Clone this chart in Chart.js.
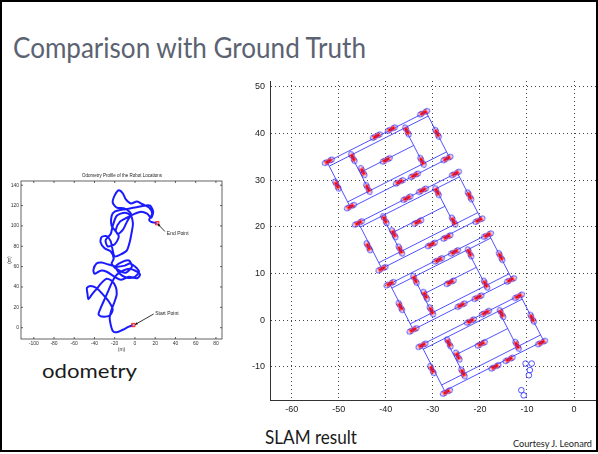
<!DOCTYPE html>
<html>
<head>
<meta charset="utf-8">
<script src="https://cdn.jsdelivr.net/npm/chart.js@4.4.1/dist/chart.umd.min.js"></script>
<style>
  html, body { margin: 0; padding: 0; background: #fff; }
  body { width: 598px; height: 454px; position: relative; overflow: hidden; }
  #frame { position: absolute; left: 0; top: 0; width: 598px; height: 452px; border: 2px solid #000; box-sizing: border-box; }
  .txt { position: absolute; white-space: nowrap; transform-origin: 0 0; font-family: Lato, "DejaVu Sans", sans-serif; line-height: 1; }
  #title { left: 13px; top: 32px; font-size: 29px; color: #5b6372; font-weight: 400; }
  #odoLabel { left: 42px; top: 361px; font-size: 19px; color: #1a1a1a; }
  #slamLabel { left: 265px; top: 427px; font-size: 19px; color: #1a1a1a; }
  #courtesy { left: 513px; top: 440px; font-size: 8.5px; color: #1a1a1a; }
  #odoTitle { left: 82px; top: 173px; font-size: 5px; color: #222; font-family: "Liberation Sans", sans-serif; }
  canvas { position: absolute; }
</style>
</head>
<body>
<canvas id="odometry" width="230" height="185" style="left:0px;top:170px;width:230px;height:185px"></canvas>
<canvas id="slam" width="374" height="345" style="left:230px;top:75px;width:374px;height:345px"></canvas>
<div class="txt" id="title">Comparison with Ground Truth</div>
<div class="txt" id="odoTitle">Odometry Profile of the Robot Locations</div>
<div class="txt" id="odoLabel">odometry</div>
<div class="txt" id="slamLabel">SLAM result</div>
<div class="txt" id="courtesy">Courtesy J. Leonard</div>
<div id="frame"></div>
<script>
// ---- SLAM result (right plot) ----
const slamXTicks = [-60, -50, -40, -30, -20, -10, 0];
const slamYTicks = [-10, 0, 10, 20, 30, 40, 50];

// landmark pairs lying along the long walls
const landmarksAlong = [
  [-52.2, 34.0], [-42.0, 39.4], [-38.8, 40.9], [-31.95, 44.4], [-39.9, 34.3],
  [-47.5, 24.3], [-37.1, 29.6], [-33.9, 31.0], [-27.0, 34.6],
  [-45.8, 20.8], [-35.5, 26.1], [-32.2, 27.8], [-25.2, 31.4], [-33.2, 21.0],
  [-40.8, 11.0], [-30.3, 16.2], [-27.0, 17.8], [-20.2, 21.4],
  [-39.1, 7.8], [-28.8, 12.9], [-25.4, 14.6], [-18.4, 18.2], [-26.3, 8.1],
  [-34.2, -2.1], [-24.0, 3.2], [-20.4, 4.9], [-13.5, 8.6],
  [-32.3, -5.4], [-22.0, -0.2], [-18.8, 1.6], [-11.8, 5.1], [-19.7, -5.1],
  [-27.1, -15.4], [-16.8, -10.0], [-13.8, -8.4], [-6.9, -4.8]
];
// landmark pairs lying along the short cross walls
const landmarksAcross = [
  [-47.0, 34.8], [-35.5, 40.5], [-50.4, 28.9], [-44.9, 31.8], [-29.1, 40.0], [-43.8, 28.2], [-32.3, 34.0],
  [-40.2, 21.5], [-29.1, 27.5], [-43.7, 15.7], [-38.3, 18.5], [-22.2, 26.6], [-36.9, 15.0], [-25.6, 21.2],
  [-33.8, 8.7], [-22.2, 14.4], [-36.9, 2.9], [-31.6, 5.3], [-15.6, 13.6], [-30.3, 2.0], [-18.8, 7.7],
  [-26.6, -4.9], [-15.4, 1.4], [-30.2, -10.6], [-24.7, -7.7], [-8.9, 0.4], [-23.6, -11.3], [-12.1, -5.4]
];
const strayObservations = [
  [-10.3, -9.3], [-9.0, -9.3], [-9.4, -10.7], [-9.6, -11.8], [-11.2, -15.0], [-10.7, -16.1]
];
// wall segments x1, y1, x2, y2
const wallSegments = [
  [-52.47, 33.86, -31.44, 44.58], [-52.01, 32.97, -30.99, 43.69], [-52.47, 33.86, -47.47, 24.06],
  [-31.44, 44.58, -26.45, 34.78], [-48.11, 25.31, -27.08, 36.03], [-47.47, 24.06, -26.45, 34.78],
  [-47.38, 35.33, -43.48, 27.67], [-35.98, 41.15, -32.07, 33.48], [-45.47, 31.59, -34.07, 37.40],

  [-45.84, 20.86, -24.81, 31.57], [-45.39, 19.96, -24.36, 30.68], [-45.84, 20.86, -40.85, 11.05],
  [-24.81, 31.57, -19.82, 21.77], [-41.48, 12.30, -20.45, 23.02], [-40.85, 11.05, -19.82, 21.77],
  [-40.75, 22.33, -36.85, 14.66], [-29.35, 28.14, -25.44, 20.47], [-38.85, 18.58, -27.44, 24.39],

  [-39.17, 7.76, -18.14, 18.47], [-38.71, 6.87, -17.68, 17.58], [-39.17, 7.76, -34.17, -2.04],
  [-18.14, 18.47, -13.14, 8.67], [-34.81, -0.80, -13.78, 9.92], [-34.17, -2.04, -13.14, 8.67],
  [-34.08, 9.23, -30.17, 1.57], [-22.67, 15.04, -18.77, 7.38], [-32.17, 5.49, -20.77, 11.30],

  [-32.49, -5.34, -11.46, 5.38], [-32.04, -6.23, -11.01, 4.49], [-32.49, -5.34, -27.50, -15.14],
  [-11.46, 5.38, -6.47, -4.43], [-28.13, -13.89, -7.11, -3.18], [-27.50, -15.14, -6.47, -4.43],
  [-27.40, -3.87, -23.50, -11.53], [-16.00, 1.94, -12.10, -5.72], [-25.50, -7.61, -14.09, -1.80]
];

// ---- Odometry (left plot) ----
const odoXTicks = [-100, -80, -60, -40, -20, 0, 20, 40, 60, 80];
const odoYTicks = [0, 20, 40, 60, 80, 100, 120, 140];
const odometryPath = [
  [-1.6, 2.6], [-6, 1], [-12, -2], [-18, -4.5], [-22, -3], [-24, 3], [-25, 10], [-23, 18],
  [-20, 26], [-18, 33], [-19, 40], [-23, 46], [-28, 48], [-33, 44], [-38, 38], [-43, 32],
  [-46, 28], [-47, 34], [-47.5, 39], [-44, 41], [-38, 39], [-32, 33], [-26, 26], [-22, 18],
  [-25, 12], [-33, 11], [-36, 13], [-34, 19], [-30, 28], [-26, 37], [-22, 46], [-18, 52],
  [-12, 56], [-5, 58], [2, 55], [5, 52], [2, 48.5], [-6, 50], [-14, 47], [-20, 50],
  [-28, 55], [-34, 56], [-40, 53], [-41, 57], [-38, 63], [-33, 64], [-26, 62], [-18, 60],
  [-10, 61], [-5, 63], [0, 60], [4, 55], [0, 50], [-8, 49], [-15, 53], [-19, 60],
  [-14, 64], [-6, 66], [-3, 60], [-9, 54], [-17, 57], [-23, 63],
  [-21, 68], [-24, 75], [-30, 78], [-34, 84], [-33, 89], [-28, 90], [-24, 85], [-22, 76],
  [-20, 70], [-14, 72], [-8, 76], [-5, 85], [-3, 95], [-2, 102], [-4, 110], [-10, 113],
  [-18, 110], [-22, 100], [-24, 92], [-29, 86], [-27, 80], [-20, 82], [-16, 90],
  [-23, 100], [-23, 110], [-20, 114], [-12, 116], [0, 118],
  [10, 120], [15, 120], [18, 114], [16, 108], [12, 112], [6, 114], [0, 112], [-8, 108],
  [-15, 104], [-19, 96], [-17, 92], [-12, 96], [-8, 104], [-4, 112], [-10, 117], [-18, 118],
  [-22, 123], [-20, 130], [-16, 135], [-12, 132], [-9, 126], [-4, 122], [2, 124], [8, 121],
  [14, 118], [17, 112], [14, 106], [16, 104], [20, 103], [22, 102.6]
];
const odoStartEnd = [[-1.6, 2.6], [22, 102.6]];

// annotation placement (data units) for the odometry plot
const odoNotes = [
  { text: 'End Point', at: [31.5, 92.8], tail: [29.6, 94.5], head: [22.5, 102] },
  { text: 'Start Point', at: [20, 14.2], tail: [18.5, 13.5], head: [0, 3] }
];

function segmentsToPoints(segs) {
  const pts = [];
  segs.forEach(s => {
    pts.push({ x: s[0], y: s[1] }, { x: s[2], y: s[3] }, { x: NaN, y: NaN });
  });
  return pts;
}
const toXY = arr => arr.map(p => ({ x: p[0], y: p[1] }));

function makeGlyph() {
  const c = document.createElement('canvas');
  c.width = 16; c.height = 10;
  const g = c.getContext('2d');
  [5, 11].forEach(cx => {
    g.fillStyle = 'rgba(255,110,110,0.22)';
    g.beginPath(); g.arc(cx, 5, 3, 0, Math.PI * 2); g.fill();
  });
  g.strokeStyle = '#3b3bff'; g.lineWidth = 0.9;
  [5, 11].forEach(cx => { g.beginPath(); g.ellipse(cx, 5, 3.6, 2.6, 0, 0, Math.PI * 2); g.stroke(); });
  g.strokeStyle = '#ff0000'; g.lineWidth = 1;
  [6, 10].forEach(cx => {
    g.beginPath();
    g.moveTo(cx - 2.2, 5); g.lineTo(cx + 2.2, 5);
    g.moveTo(cx, 2.8); g.lineTo(cx, 7.2);
    g.moveTo(cx - 1.6, 3.4); g.lineTo(cx + 1.6, 6.6);
    g.moveTo(cx - 1.6, 6.6); g.lineTo(cx + 1.6, 3.4);
    g.stroke();
  });
  return c;
}
const glyph = makeGlyph();

const tickFont = { family: '"Liberation Sans", Arial, sans-serif', size: 9 };

new Chart(document.getElementById('slam'), {
  type: 'scatter',
  data: {
    datasets: [
      {
        label: 'landmarks along',
        data: toXY(landmarksAlong),
        pointStyle: glyph, pointRadius: 4, rotation: -27
      },
      {
        label: 'landmarks across',
        data: toXY(landmarksAcross),
        pointStyle: glyph, pointRadius: 4, rotation: 63
      },
      {
        label: 'stray',
        data: toXY(strayObservations),
        pointStyle: 'circle', pointRadius: 2.8,
        backgroundColor: 'rgba(0,0,0,0)', borderColor: '#3b3bff', borderWidth: 0.9
      },
      {
        label: 'walls',
        data: segmentsToPoints(wallSegments),
        showLine: true, spanGaps: false, pointRadius: 0,
        borderColor: 'rgba(50,50,255,0.85)', borderWidth: 1
      }
    ]
  },
  options: {
    responsive: false,
    animation: false,
    devicePixelRatio: 1,
    layout: { padding: { top: 6, right: 0, left: 0, bottom: 0 } },
    plugins: { legend: { display: false }, tooltip: { enabled: false } },
    scales: {
      x: {
        type: 'linear', min: -64.6, max: 5.3,
        afterBuildTicks: s => { s.ticks = slamXTicks.map(v => ({ value: v })); },
        afterFit: s => { s.height = 20; s.paddingLeft = 0; s.paddingRight = 0; },
        grid: { color: '#444', lineWidth: 1, drawTicks: false },
        border: { color: '#333', width: 1, dash: [1, 3] },
        ticks: { font: tickFont, color: '#222', padding: 4, maxRotation: 0 }
      },
      y: {
        type: 'linear', min: -17.1, max: 51.2,
        afterBuildTicks: s => { s.ticks = slamYTicks.map(v => ({ value: v })); },
        afterFit: s => { s.width = 40; s.paddingTop = 0; s.paddingBottom = 0; },
        grid: { color: '#444', lineWidth: 1, drawTicks: false },
        border: { color: '#333', width: 1, dash: [1, 3] },
        ticks: { font: tickFont, color: '#222', padding: 5 }
      }
    }
  }
});

// box + inward ticks + arrow notes for the small matlab-style plot
const odoDecor = {
  id: 'odoDecor',
  afterDatasetsDraw(chart) {
    const { ctx, chartArea: a, scales: { x, y } } = chart;
    ctx.save();
    ctx.strokeStyle = '#222';
    ctx.lineWidth = 0.7;
    ctx.strokeRect(a.left, a.top, a.right - a.left, a.bottom - a.top);
    ctx.beginPath();
    odoXTicks.forEach(v => {
      const px = x.getPixelForValue(v);
      ctx.moveTo(px, a.bottom); ctx.lineTo(px, a.bottom - 2);
      ctx.moveTo(px, a.top); ctx.lineTo(px, a.top + 2);
    });
    odoYTicks.forEach(v => {
      const py = y.getPixelForValue(v);
      ctx.moveTo(a.left, py); ctx.lineTo(a.left + 2, py);
      ctx.moveTo(a.right, py); ctx.lineTo(a.right - 2, py);
    });
    ctx.stroke();
    ctx.font = '5px "Liberation Sans", Arial, sans-serif';
    ctx.textBaseline = 'middle';
    odoNotes.forEach(n => {
      const tx = x.getPixelForValue(n.tail[0]), ty = y.getPixelForValue(n.tail[1]);
      const hx = x.getPixelForValue(n.head[0]), hy = y.getPixelForValue(n.head[1]);
      ctx.strokeStyle = '#000';
      ctx.lineWidth = 0.8;
      ctx.beginPath(); ctx.moveTo(tx, ty); ctx.lineTo(hx, hy); ctx.stroke();
      const ang = Math.atan2(hy - ty, hx - tx);
      ctx.beginPath();
      ctx.moveTo(hx, hy);
      ctx.lineTo(hx - 3 * Math.cos(ang - 0.4), hy - 3 * Math.sin(ang - 0.4));
      ctx.lineTo(hx - 3 * Math.cos(ang + 0.4), hy - 3 * Math.sin(ang + 0.4));
      ctx.closePath();
      ctx.fillStyle = '#000';
      ctx.fill();
      ctx.fillStyle = '#222';
      ctx.fillText(n.text, x.getPixelForValue(n.at[0]), y.getPixelForValue(n.at[1]));
    });
    ctx.restore();
  }
};

const smallFont = { family: '"Liberation Sans", Arial, sans-serif', size: 5 };

new Chart(document.getElementById('odometry'), {
  type: 'scatter',
  data: {
    datasets: [
      {
        label: 'start / end',
        data: toXY(odoStartEnd),
        pointStyle: 'rect', pointRadius: 2.4,
        backgroundColor: 'rgba(255,120,120,0.6)', borderColor: '#ff0000', borderWidth: 0.8
      },
      {
        label: 'odometry',
        data: toXY(odometryPath),
        showLine: true, pointRadius: 0, tension: 0.25,
        borderColor: '#1a1aff', borderWidth: 2
      }
    ]
  },
  options: {
    responsive: false,
    animation: false,
    devicePixelRatio: 1,
    layout: { padding: { top: 11, right: 8, left: 0, bottom: 0 } },
    plugins: { legend: { display: false }, tooltip: { enabled: false } },
    scales: {
      x: {
        type: 'linear', min: -112.6, max: 86,
        afterBuildTicks: s => { s.ticks = odoXTicks.map(v => ({ value: v })); },
        afterFit: s => { s.height = 16; },
        grid: { display: false, drawTicks: false },
        border: { display: false },
        ticks: { font: smallFont, color: '#333', padding: 2, maxRotation: 0 },
        title: { display: true, text: '(m)', font: smallFont, color: '#333', padding: { top: 1, bottom: 2 } }
      },
      y: {
        type: 'linear', min: -11.1, max: 144.1,
        afterBuildTicks: s => { s.ticks = odoYTicks.map(v => ({ value: v })); },
        afterFit: s => { s.width = 21; },
        grid: { display: false, drawTicks: false },
        border: { display: false },
        ticks: { font: smallFont, color: '#333', padding: 2 },
        title: { display: true, text: '(m)', font: smallFont, color: '#333', padding: { top: 7, bottom: 0 } }
      }
    }
  },
  plugins: [odoDecor]
});

// squeeze slide texts to the widths seen in the picture
function fitWidth(id, w) {
  const el = document.getElementById(id);
  const cur = el.getBoundingClientRect().width;
  if (cur > 0) el.style.transform = 'scaleX(' + (w / cur) + ')';
}
fitWidth('title', 353);
fitWidth('odoLabel', 95);
fitWidth('slamLabel', 92);
fitWidth('courtesy', 79);
fitWidth('odoTitle', 80);
</script>
</body>
</html>
